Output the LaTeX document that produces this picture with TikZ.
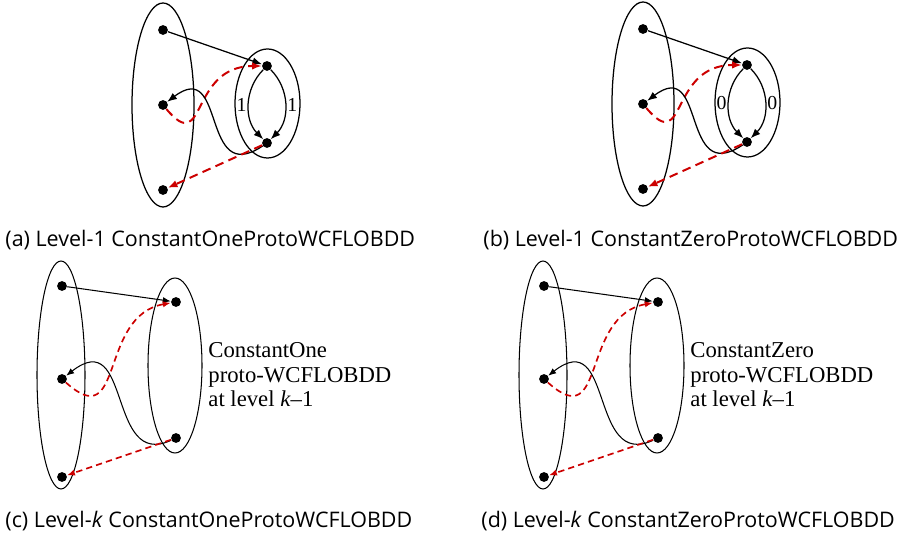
\documentclass[tikz,border=0pt]{standalone}
\usepackage{fontspec}
\setmainfont{Liberation Serif}
\setsansfont{Open Sans}
\usetikzlibrary{arrows.meta}
\definecolor{retred}{RGB}{204,0,0}

\begin{document}
\begin{tikzpicture}[x=0.48pt,y=0.48pt,
  dot/.style={circle,fill,inner sep=0pt,minimum size=4.7pt},
  arr/.style={-{Latex[length=4.6pt,width=3.6pt]},line width=0.6pt},
  ret/.style={-{Latex[length=4.6pt,width=3.6pt]},retred,line width=0.95pt,dash pattern=on 4.2pt off 2.6pt},
  arrk/.style={-{Latex[length=3.8pt,width=3pt]},line width=0.5pt},
  retk/.style={-{Latex[length=3.8pt,width=3pt]},retred,line width=0.8pt,dash pattern=on 3pt off 2pt},
  lab/.style={font=\fontsize{9.5}{10}\selectfont,inner sep=0.8pt},
  txt/.style={font=\fontsize{10.9}{11.8}\selectfont,align=left,anchor=west,inner sep=0pt},
  captxt/.style={font=\sffamily\fontsize{10.3}{12}\selectfont,inner sep=0pt,anchor=base west}]
\useasboundingbox (0,0) rectangle (913,-543);

% (a) level-1, constant one
\draw[line width=0.6pt] (163,-105) ellipse [x radius=31,y radius=102];
\draw[line width=0.6pt] (267.5,-103.5) ellipse [x radius=32.5,y radius=54.5];
\node[dot] (a1) at (163,-30) {};
\node[dot] (a2) at (163,-105) {};
\node[dot] (a3) at (163,-190) {};
\node[dot] (a4) at (267,-66) {};
\node[dot] (a5) at (267,-143) {};
\draw[arr] (a1) -- (a4);
\draw[arr] (a4) to[bend right=45] node[lab,left] {1} (a5);
\draw[arr] (a4) to[bend left=45] node[lab,right] {1} (a5);
\draw[ret] (a2) to[out=-50,in=180,out distance=30pt,in distance=35pt] (a4);
\draw[arr] (a5) to[out=214,in=37,out distance=36pt,in distance=35.6pt] (a2);
\draw[ret] (a5) -- (a3);
\node[captxt] (capa) at (5,-247) {(a) Level-1 ConstantOneProtoWCFLOBDD};

% (b) level-1, constant zero
\begin{scope}[shift={(480,1)}]
\draw[line width=0.6pt] (163,-105) ellipse [x radius=31,y radius=102];
\draw[line width=0.6pt] (267.5,-103.5) ellipse [x radius=32.5,y radius=54.5];
\node[dot] (b1) at (163,-30) {};
\node[dot] (b2) at (163,-105) {};
\node[dot] (b3) at (163,-190) {};
\node[dot] (b4) at (267,-66) {};
\node[dot] (b5) at (267,-143) {};
\draw[arr] (b1) -- (b4);
\draw[arr] (b4) to[bend right=45] node[lab,left] {0} (b5);
\draw[arr] (b4) to[bend left=45] node[lab,right] {0} (b5);
\draw[ret] (b2) to[out=-50,in=180,out distance=30pt,in distance=35pt] (b4);
\draw[arr] (b5) to[out=214,in=37,out distance=36pt,in distance=35.6pt] (b2);
\draw[ret] (b5) -- (b3);
\end{scope}
\node[captxt] (capb) at (483,-247) {(b) Level-1 ConstantZeroProtoWCFLOBDD};

% (c) level-k, constant one
\draw[line width=0.5pt] (61,-375) ellipse [x radius=24,y radius=114];
\draw[line width=0.5pt] (175,-365.5) ellipse [x radius=27,y radius=87.5];
\node[dot] (c1) at (62,-286) {};
\node[dot] (c2) at (62,-379) {};
\node[dot] (c3) at (62,-477) {};
\node[dot] (c4) at (176,-302) {};
\node[dot] (c5) at (176,-438) {};
\draw[arrk] (c1) -- (c4);
\draw[retk] (c2) to[out=-42,in=190,out distance=38pt,in distance=35.5pt] (c4);
\draw[arrk] (c5) to[out=205,in=38,out distance=34pt,in distance=40pt] (c2);
\draw[retk] (c5) -- (c3);
\node[txt] (tc) at (208,-375) {ConstantOne\\proto-WCFLOBDD\\at level \textit{k}--1};
\node[captxt] (capc) at (5,-528) {(c) Level-\textit{k} ConstantOneProtoWCFLOBDD};

% (d) level-k, constant zero
\begin{scope}[shift={(482,0)}]
\draw[line width=0.5pt] (61,-375) ellipse [x radius=24,y radius=114];
\draw[line width=0.5pt] (175,-365.5) ellipse [x radius=27,y radius=87.5];
\node[dot] (d1) at (62,-286) {};
\node[dot] (d2) at (62,-379) {};
\node[dot] (d3) at (62,-477) {};
\node[dot] (d4) at (176,-302) {};
\node[dot] (d5) at (176,-438) {};
\draw[arrk] (d1) -- (d4);
\draw[retk] (d2) to[out=-42,in=190,out distance=38pt,in distance=35.5pt] (d4);
\draw[arrk] (d5) to[out=205,in=38,out distance=34pt,in distance=40pt] (d2);
\draw[retk] (d5) -- (d3);
\node[txt] (td) at (208,-375) {ConstantZero\\proto-WCFLOBDD\\at level \textit{k}--1};
\end{scope}
\node[captxt] (capd) at (481,-528) {(d) Level-\textit{k} ConstantZeroProtoWCFLOBDD};
\end{tikzpicture}
\end{document}
